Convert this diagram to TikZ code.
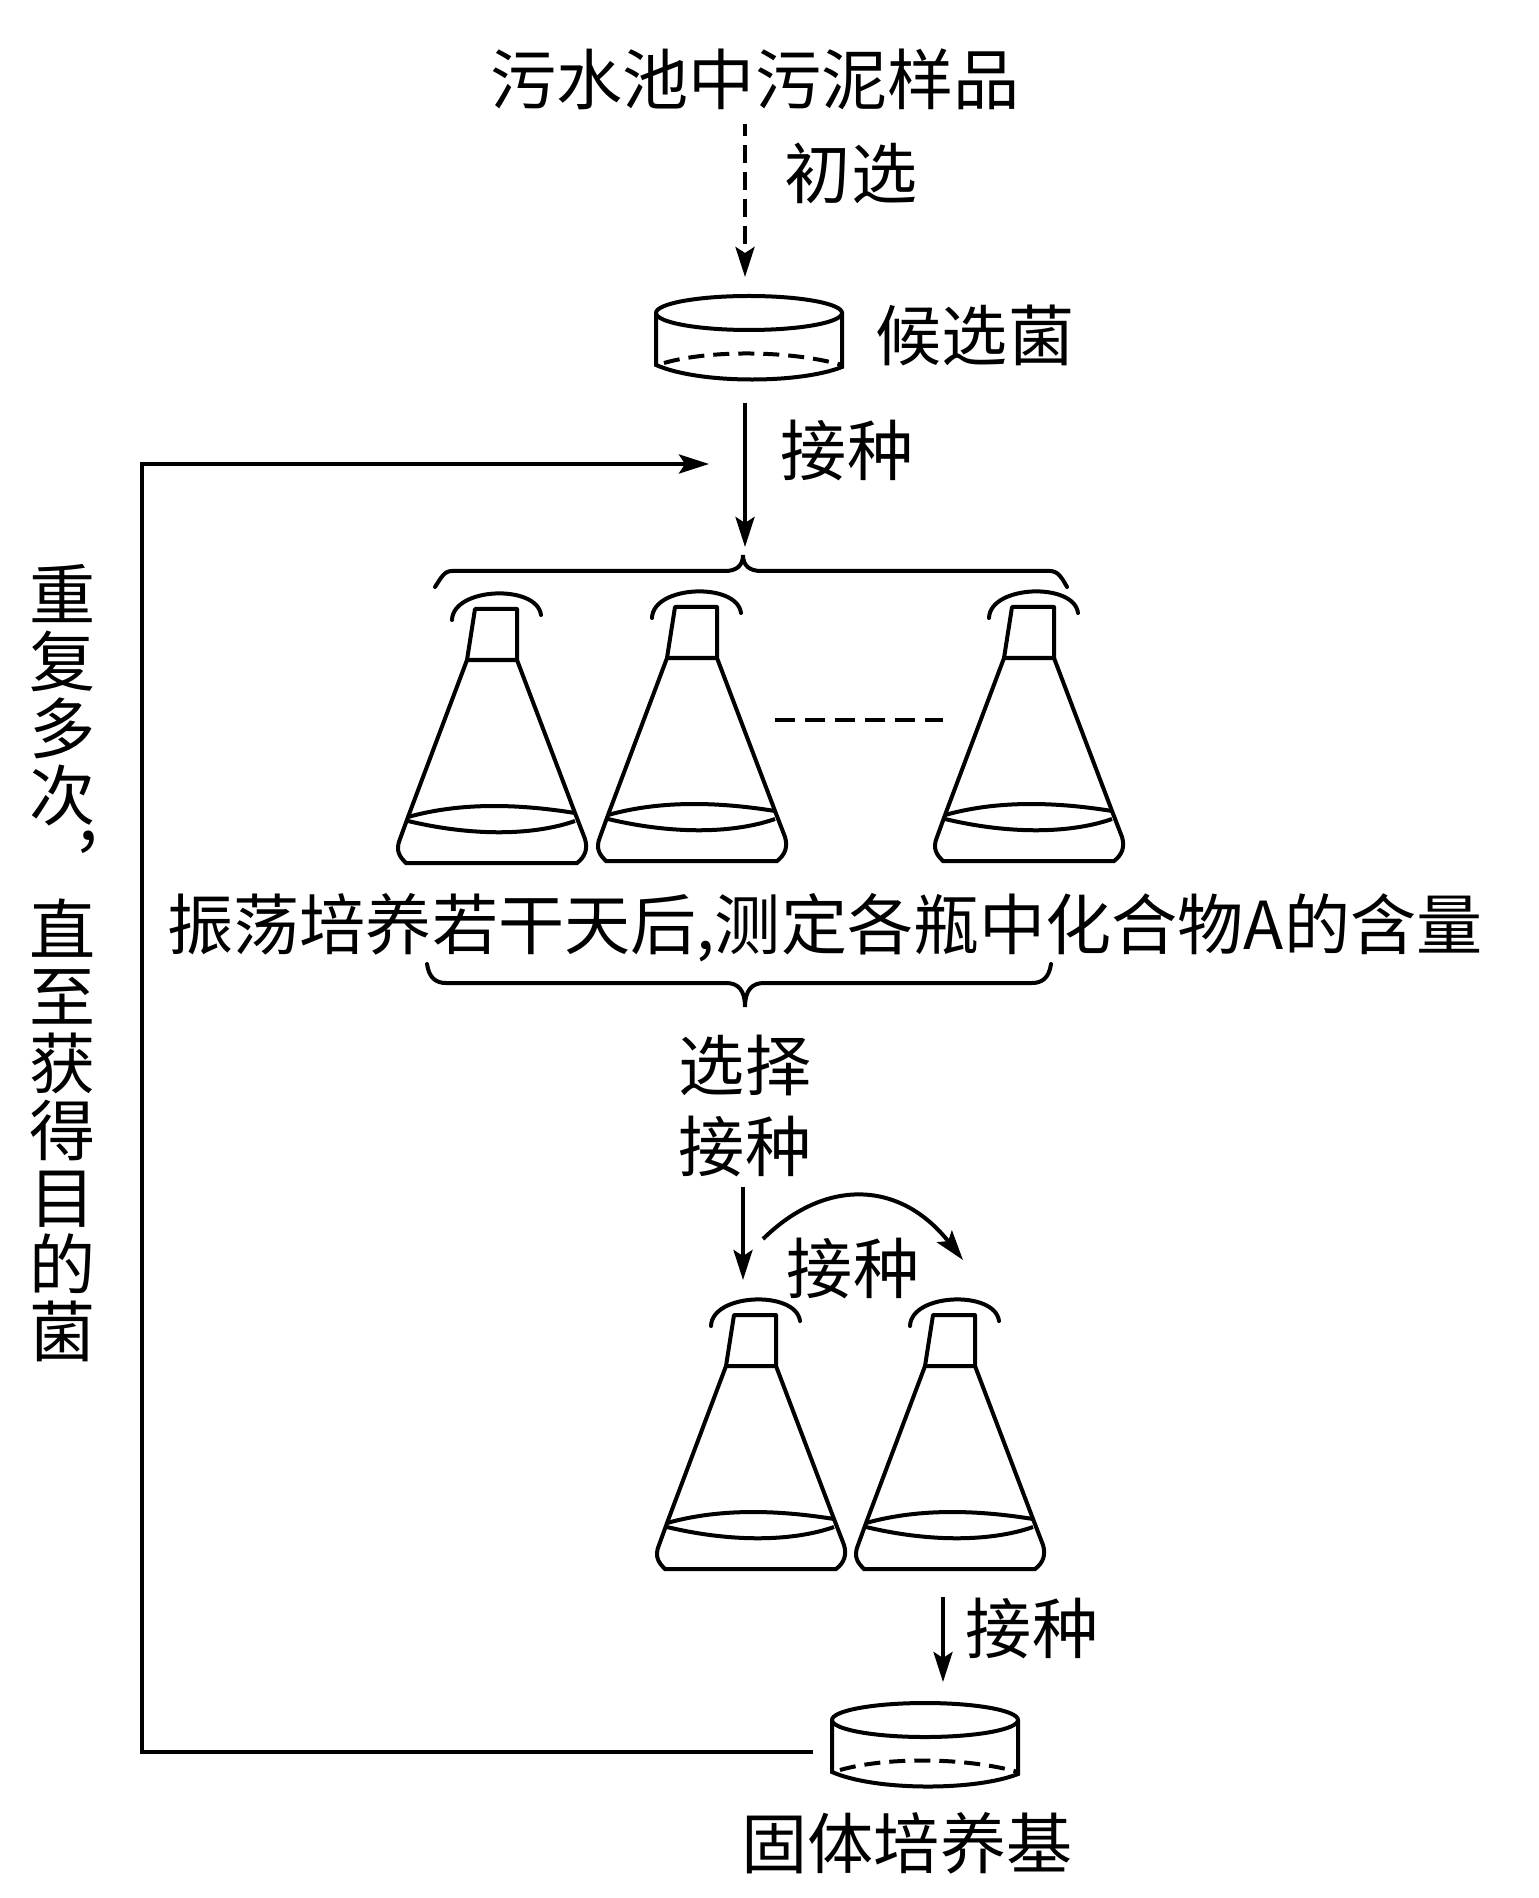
\documentclass[tikz,border=0pt]{standalone}
\usepackage{fontspec}
\setmainfont{Noto Sans CJK SC}
\usetikzlibrary{arrows.meta,positioning}

\begin{document}
\begin{tikzpicture}[x=0.01cm, y=-0.01cm, line width=0.04cm, every node/.style={font=\fontsize{18.8}{19.05}\selectfont, inner sep=0pt},
arr/.style={-{Stealth[length=0.3cm, width=0.19cm, inset=0.06cm]}},
flask/.pic={
\draw[line join=round] (0,0) -- (42,0) -- (42,51) -- (-8,51) -- cycle;
\draw (-8,51) -- (-67,208) -- (-75,230) .. controls (-80,242) and (-75,248) .. (-69,254) -- (102,254) .. controls (110,248) and (113,240) .. (110,230) -- (100,204) -- (42,51);
\draw (-67,208) .. controls (-10,192) and (50,196) .. (100,204);
\draw (-67,212) .. controls (0,228) and (60,226) .. (100,212);
\draw[line cap=round] (-23,11) .. controls (-22,-22) and (62,-25) .. (66,6);
},
dish/.pic={
\draw (0,0) ellipse [x radius=93, y radius=17];
\draw (-93,0) -- (-93,52) .. controls (-50,71) and (50,71) .. (93,54) -- (93,0);
\draw[dash pattern=on 0.16cm off 0.09cm] (-85,50) .. controls (-40,37) and (40,37) .. (93,52);
}]
\useasboundingbox (0,0) rectangle (1538,1898);
\node (sample) at (755,79) {污水池中污泥样品};
\node (chuxuan) at (851,173) {初选};
\node (houxuan) at (975,335) {候选菌};
\node (jiezhongA) at (847,450) {接种};
\node (zhendang) at (825,928) {振荡培养若干天后,测定各瓶中化合物A的含量};
\node (xuanze) at (745,1065) {选择};
\node (jiezhongB) at (745,1146) {接种};
\node (jiezhongC) at (853,1268) {接种};
\node (jiezhongD) at (1032,1628) {接种};
\node (guti) at (907,1843) {固体培养基};
\node[align=center, anchor=north] (chongfu) at (63,562) {重\\复\\多\\次\\\hspace*{0.86cm}\smash{\raisebox{0.41cm}{，}}\\直\\至\\获\\得\\目\\的\\菌};
\pic (dishA) at (749,313) {dish};
\pic (dishB) at (925,1720) {dish};
\pic (flaskA) at (475,609) {flask};
\pic (flaskB) at (675,607) {flask};
\pic (flaskC) at (1012,607) {flask};
\pic (flaskD) at (734,1315) {flask};
\pic (flaskE) at (933,1315) {flask};
\coordinate (a1) at (745,124);
\coordinate (a2) at (745,277);
\coordinate (b1) at (745,403);
\coordinate (b2) at (745,547);
\coordinate (c1) at (743,1187);
\coordinate (c2) at (743,1280);
\coordinate (d1) at (763,1239);
\coordinate (d2) at (963,1260);
\coordinate (e1) at (943,1597);
\coordinate (e2) at (943,1682);
\coordinate (f1) at (813,1752);
\coordinate (f2) at (142,1752);
\coordinate (f3) at (142,464);
\coordinate (f4) at (709,464);
\coordinate (g1) at (775,720);
\coordinate (g2) at (943,720);
\draw[arr, dash pattern=on 0.18cm off 0.09cm, dash phase=0.06cm] (a1) -- (a2);
\draw[arr] (b1) -- (b2);
\draw[arr] (c1) -- (c2);
\draw[arr] (d1) .. controls (825,1178) and (900,1180) .. (d2);
\draw[arr] (e1) -- (e2);
\draw[arr] (f1) -- (f2) -- (f3) -- (f4);
\draw[dash pattern=on 0.2cm off 0.1cm] (g1) -- (g2);
\draw[line cap=round] (435,587) .. controls (441,578) and (444,571) .. (452,571) -- (725,571) .. controls (736,571) and (743,566) .. (743,555) .. controls (743,566) and (750,571) .. (761,571) -- (1050,571) .. controls (1058,571) and (1062,578) .. (1067,587);
\draw[line cap=round] (427,964) .. controls (429,978) and (436,983) .. (446,983) -- (726,983) .. controls (738,983) and (745,990) .. (745,1007) .. controls (745,990) and (752,983) .. (764,983) -- (1032,983) .. controls (1042,983) and (1049,978) .. (1051,964);
\end{tikzpicture}
\end{document}
